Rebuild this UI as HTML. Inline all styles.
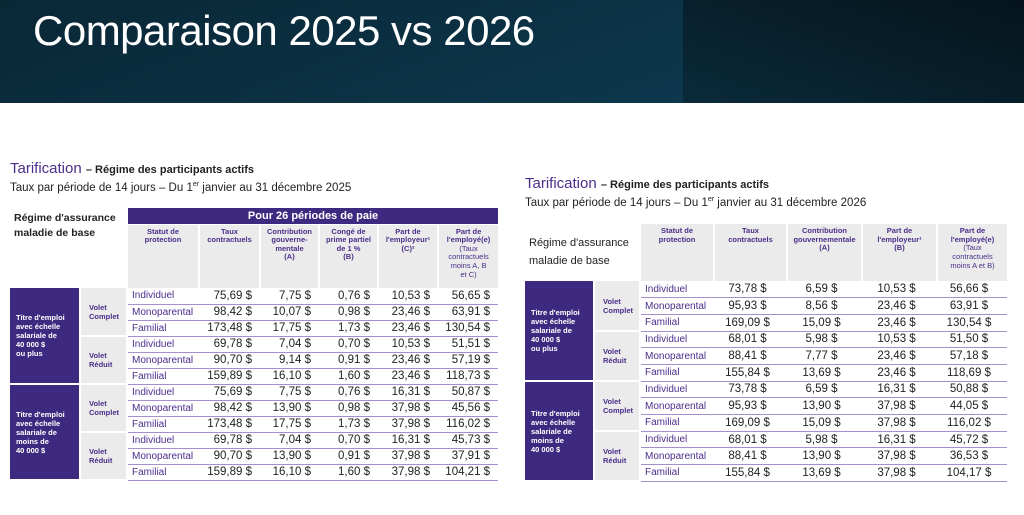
<!DOCTYPE html>
<html><head><meta charset="utf-8"><style>
*{margin:0;padding:0;box-sizing:border-box}
body{width:1024px;height:515px;background:#fff;position:relative;overflow:hidden;font-family:"Liberation Sans",sans-serif}
.banner{position:absolute;left:0;top:0;width:1024px;height:103px;background:linear-gradient(160deg,#0a2736 0%,#0c3448 60%,#0e3d55 100%)}
.banner .r{position:absolute;left:683px;top:0;width:341px;height:103px;background:linear-gradient(200deg,#05141c,#0a2a3a)}
.banner h1{position:absolute;left:33px;top:7px;font-size:42px;font-weight:normal;color:#fff;letter-spacing:-0.5px}
.t1{position:absolute;font-size:15px;color:#4a2e8a}
.t1 b{font-size:11px;color:#222}
.sub{position:absolute;font-size:11.5px;color:#222}
table{position:absolute;border-collapse:collapse;table-layout:fixed}
td{padding:0;overflow:hidden;white-space:nowrap}
.hd{background:#ebebeb;color:#4a2e8a;font-size:7.5px;font-weight:bold;text-align:center;vertical-align:top;padding-top:3px;border-left:2px solid #fff;line-height:1.15}
.top{background:#3d2a80;color:#fff;font-weight:bold;font-size:11px;text-align:center;border-left:2px solid #fff;border-bottom:1px solid #fff}
.reg{font-weight:bold;font-size:10.5px;color:#222;vertical-align:top;padding:3px 0 0 4px;line-height:1.4}
.pb{background:#3d2a80;color:#fff;font-size:7.5px;font-weight:bold;padding-left:6px;line-height:1.2;border-bottom:2px solid #fff}
.gb{background:#ebebeb;color:#4a2e8a;font-size:7.5px;font-weight:bold;padding-left:8px;line-height:1.2;border-left:2px solid #fff;border-bottom:2px solid #fff}
.st{color:#4a2e8a;font-size:10px;padding-left:4px;border-left:2px solid #fff;border-bottom:1.5px solid #a58fcc}
.n{font-family:"Liberation Sans Narrow","Liberation Sans",sans-serif;font-size:11.5px;color:#222;text-align:right;border-bottom:1.5px solid #a58fcc}
#L .n{padding-right:8px}
#R .n{text-align:center;padding-right:6px}
</style></head><body>
<div class="banner"><div class="r"></div><h1>Comparaison 2025 vs 2026</h1></div>

<div class="t1" style="left:10px;top:160px">Tarification <b>– Régime des participants actifs</b></div>
<div class="sub" style="left:10px;top:181px">Taux par période de 14 jours – Du 1<sup style="font-size:7px">er</sup> janvier au 31 décembre 2025</div>

<table id="L" style="left:10px;top:208px;width:488px">
<colgroup><col style="width:70px"><col style="width:47px"><col style="width:72px"><col style="width:61px"><col style="width:59px"><col style="width:59px"><col style="width:60px"><col style="width:60px"></colgroup>
<tr style="height:16px"><td class="reg" colspan="2" rowspan="2">Régime d'assurance<br>maladie de base</td><td class="top" colspan="6">Pour 26 périodes de paie</td></tr>
<tr style="height:64px"><td class="hd">Statut de<br>protection</td><td class="hd">Taux<br>contractuels</td><td class="hd">Contribution<br>gouverne-<br>mentale<br>(A)</td><td class="hd">Congé de<br>prime partiel<br>de 1 %<br>(B)</td><td class="hd">Part de<br>l'employeur¹<br>(C)²</td><td class="hd">Part de<br>l'employé(e)<br><span style="font-weight:normal">(Taux<br>contractuels<br>moins A, B<br>et C)</span></td></tr>
<tr style="height:16px"><td class="pb" rowspan="6">Titre d'emploi<br>avec échelle<br>salariale de<br>40 000 $<br>ou plus</td><td class="gb" rowspan="3">Volet<br>Complet</td><td class="st">Individuel</td><td class="n">75,69 $</td><td class="n">7,75 $</td><td class="n">0,76 $</td><td class="n">10,53 $</td><td class="n">56,65 $</td></tr>
<tr style="height:16px"><td class="st">Monoparental</td><td class="n">98,42 $</td><td class="n">10,07 $</td><td class="n">0,98 $</td><td class="n">23,46 $</td><td class="n">63,91 $</td></tr>
<tr style="height:16px"><td class="st">Familial</td><td class="n">173,48 $</td><td class="n">17,75 $</td><td class="n">1,73 $</td><td class="n">23,46 $</td><td class="n">130,54 $</td></tr>
<tr style="height:16px"><td class="gb" rowspan="3">Volet<br>Réduit</td><td class="st">Individuel</td><td class="n">69,78 $</td><td class="n">7,04 $</td><td class="n">0,70 $</td><td class="n">10,53 $</td><td class="n">51,51 $</td></tr>
<tr style="height:16px"><td class="st">Monoparental</td><td class="n">90,70 $</td><td class="n">9,14 $</td><td class="n">0,91 $</td><td class="n">23,46 $</td><td class="n">57,19 $</td></tr>
<tr style="height:16px"><td class="st">Familial</td><td class="n">159,89 $</td><td class="n">16,10 $</td><td class="n">1,60 $</td><td class="n">23,46 $</td><td class="n">118,73 $</td></tr>
<tr style="height:16px"><td class="pb" rowspan="6">Titre d'emploi<br>avec échelle<br>salariale de<br>moins de<br>40 000 $</td><td class="gb" rowspan="3">Volet<br>Complet</td><td class="st">Individuel</td><td class="n">75,69 $</td><td class="n">7,75 $</td><td class="n">0,76 $</td><td class="n">16,31 $</td><td class="n">50,87 $</td></tr>
<tr style="height:16px"><td class="st">Monoparental</td><td class="n">98,42 $</td><td class="n">13,90 $</td><td class="n">0,98 $</td><td class="n">37,98 $</td><td class="n">45,56 $</td></tr>
<tr style="height:16px"><td class="st">Familial</td><td class="n">173,48 $</td><td class="n">17,75 $</td><td class="n">1,73 $</td><td class="n">37,98 $</td><td class="n">116,02 $</td></tr>
<tr style="height:16px"><td class="gb" rowspan="3">Volet<br>Réduit</td><td class="st">Individuel</td><td class="n">69,78 $</td><td class="n">7,04 $</td><td class="n">0,70 $</td><td class="n">16,31 $</td><td class="n">45,73 $</td></tr>
<tr style="height:16px"><td class="st">Monoparental</td><td class="n">90,70 $</td><td class="n">13,90 $</td><td class="n">0,91 $</td><td class="n">37,98 $</td><td class="n">37,91 $</td></tr>
<tr style="height:16px"><td class="st">Familial</td><td class="n">159,89 $</td><td class="n">16,10 $</td><td class="n">1,60 $</td><td class="n">37,98 $</td><td class="n">104,21 $</td></tr>
</table>

<div class="t1" style="left:525px;top:175px">Tarification <b>– Régime des participants actifs</b></div>
<div class="sub" style="left:525px;top:196px">Taux par période de 14 jours – Du 1<sup style="font-size:7px">er</sup> janvier au 31 décembre 2026</div>

<table id="R" style="left:525px;top:224px;width:482px">
<colgroup><col style="width:69px"><col style="width:46px"><col style="width:74px"><col style="width:73px"><col style="width:75px"><col style="width:75px"><col style="width:70px"></colgroup>
<tr style="height:57px"><td class="reg" colspan="2" style="vertical-align:middle;font-weight:normal;font-size:11px;line-height:1.6;padding:0 0 0 4px">Régime d'assurance<br>maladie de base</td><td class="hd">Statut de<br>protection</td><td class="hd">Taux<br>contractuels</td><td class="hd">Contribution<br>gouvernementale<br>(A)</td><td class="hd">Part de<br>l'employeur¹<br>(B)</td><td class="hd">Part de<br>l'employé(e)<br><span style="font-weight:normal">(Taux<br>contractuels<br>moins A et B)</span></td></tr>
<tr style="height:16.7px"><td class="pb" rowspan="6">Titre d'emploi<br>avec échelle<br>salariale de<br>40 000 $<br>ou plus</td><td class="gb" rowspan="3">Volet<br>Complet</td><td class="st">Individuel</td><td class="n">73,78 $</td><td class="n">6,59 $</td><td class="n">10,53 $</td><td class="n">56,66 $</td></tr>
<tr style="height:16.7px"><td class="st">Monoparental</td><td class="n">95,93 $</td><td class="n">8,56 $</td><td class="n">23,46 $</td><td class="n">63,91 $</td></tr>
<tr style="height:16.7px"><td class="st">Familial</td><td class="n">169,09 $</td><td class="n">15,09 $</td><td class="n">23,46 $</td><td class="n">130,54 $</td></tr>
<tr style="height:16.7px"><td class="gb" rowspan="3">Volet<br>Réduit</td><td class="st">Individuel</td><td class="n">68,01 $</td><td class="n">5,98 $</td><td class="n">10,53 $</td><td class="n">51,50 $</td></tr>
<tr style="height:16.7px"><td class="st">Monoparental</td><td class="n">88,41 $</td><td class="n">7,77 $</td><td class="n">23,46 $</td><td class="n">57,18 $</td></tr>
<tr style="height:16.7px"><td class="st">Familial</td><td class="n">155,84 $</td><td class="n">13,69 $</td><td class="n">23,46 $</td><td class="n">118,69 $</td></tr>
<tr style="height:16.7px"><td class="pb" rowspan="6">Titre d'emploi<br>avec échelle<br>salariale de<br>moins de<br>40 000 $</td><td class="gb" rowspan="3">Volet<br>Complet</td><td class="st">Individuel</td><td class="n">73,78 $</td><td class="n">6,59 $</td><td class="n">16,31 $</td><td class="n">50,88 $</td></tr>
<tr style="height:16.7px"><td class="st">Monoparental</td><td class="n">95,93 $</td><td class="n">13,90 $</td><td class="n">37,98 $</td><td class="n">44,05 $</td></tr>
<tr style="height:16.7px"><td class="st">Familial</td><td class="n">169,09 $</td><td class="n">15,09 $</td><td class="n">37,98 $</td><td class="n">116,02 $</td></tr>
<tr style="height:16.7px"><td class="gb" rowspan="3">Volet<br>Réduit</td><td class="st">Individuel</td><td class="n">68,01 $</td><td class="n">5,98 $</td><td class="n">16,31 $</td><td class="n">45,72 $</td></tr>
<tr style="height:16.7px"><td class="st">Monoparental</td><td class="n">88,41 $</td><td class="n">13,90 $</td><td class="n">37,98 $</td><td class="n">36,53 $</td></tr>
<tr style="height:16.7px"><td class="st">Familial</td><td class="n">155,84 $</td><td class="n">13,69 $</td><td class="n">37,98 $</td><td class="n">104,17 $</td></tr>
</table>
</body></html>
